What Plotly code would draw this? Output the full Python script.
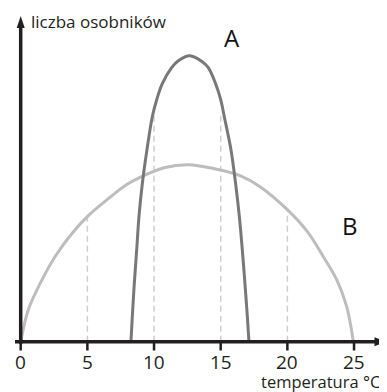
import plotly.graph_objects as go

# # Data (y is in arbitrary "number of individuals" units)
# -----------------------------------------------------|
a_temp = [8.27, 8.37, 8.52, 8.70, 8.87, 9.12, 9.47, 9.87, 10.20, 10.62, 11.32,
          11.82, 12.68, 13.62, 14.07, 14.62, 15.00, 15.27, 15.77, 16.12, 16.40,
          16.62, 16.82, 17.00, 17.12]
a_count = [0, 25, 58, 92, 125, 158, 192, 225, 242, 258, 274,
           281, 286, 280, 274, 258, 242, 225, 192, 158, 125,
           92, 58, 25, 0]

b_temp = [0.0, 0.57, 1.45, 2.57, 3.83, 5.07, 6.57, 7.82, 9.07, 10.75, 12.6,
          14.5, 16.45, 17.95, 20.0, 21.5, 22.7, 23.7, 24.45, 24.95]
b_count = [0, 32, 58, 85, 108, 126, 143, 156, 165, 174, 177,
           173, 166, 155, 132, 110, 85, 62, 35, 0]

guide_temp = [5, 10, 15, 20]
guide_top = [126, 227, 230, 132]

tick_vals = [0, 5, 10, 15, 20, 25]
tick_text = ['0', '5', '10', '15', '20', '25']

y_title = 'liczba osobników'
x_title = 'temperatura °C'

# # Style
# -----------------------------------------------------|
FONT = 'Open Sans'
INK = '#231f20'
PX = 13.333  # pixels per degree on the x axis
X0 = 20.7    # window column of temperature 0
Y0 = 341.7   # window row of the x axis
PAD = 8      # default page margin around the plot div
W, H = 387, 392


def xd(px):
    """Window column -> data x."""
    return (px - X0) / PX


def yd(py):
    """Window row -> data y."""
    return Y0 - py


fig = go.Figure()

# dashed guides up to the highest curve
for t, top in zip(guide_temp, guide_top):
    fig.add_trace(go.Scatter(
        x=[t, t], y=[0, top], mode='lines',
        line=dict(color='#cfcfcf', width=1.5, dash='6px,4px'),
        hoverinfo='skip', showlegend=False))

# curve B (wide tolerance)
fig.add_trace(go.Scatter(
    x=b_temp, y=b_count, mode='lines', name='B',
    line=dict(color='#bdbdbd', width=3, shape='spline', smoothing=1),
    showlegend=False))

# curve A (narrow tolerance)
fig.add_trace(go.Scatter(
    x=a_temp, y=a_count, mode='lines', name='A',
    line=dict(color='#787878', width=3, shape='spline', smoothing=1),
    showlegend=False))

shapes = [
    # x axis + arrow
    dict(type='line', x0=xd(15), x1=xd(379), y0=0, y1=0,
         line=dict(color=INK, width=3.5)),
    dict(type='path', fillcolor=INK, line=dict(width=0),
         path=f'M {xd(374.5)} 4.5 L {xd(386.5)} 0 L {xd(374.5)} -4.5 Z'),
    # y axis + arrow
    dict(type='line', x0=0, x1=0, y0=yd(344), y1=yd(27),
         line=dict(color=INK, width=3.5)),
    dict(type='path', fillcolor=INK, line=dict(width=0),
         path=f'M {xd(16.7)} {yd(28)} L 0 {yd(16)} L {xd(24.7)} {yd(28)} Z'),
]
# tick marks
for t in tick_vals:
    shapes.append(dict(type='line', x0=t, x1=t, y0=0, y1=yd(350.5),
                       line=dict(color=INK, width=2.5)))

annotations = [
    dict(x=t, y=yd(362), text=s, showarrow=False, xanchor='center',
         yanchor='middle', font=dict(family=FONT, size=19, color=INK))
    for t, s in zip(tick_vals, tick_text)
]
annotations += [
    dict(x=xd(29), y=yd(21), text=y_title, showarrow=False, xanchor='left',
         yanchor='middle', font=dict(family=FONT, size=17, color=INK)),
    # kept whole inside the visible page rather than cut at the edge
    dict(x=xd(259), y=yd(381), text=x_title, showarrow=False, xanchor='left',
         yanchor='middle', font=dict(family=FONT, size=16.5, color=INK)),
    dict(x=xd(231.5), y=yd(37), text='A', showarrow=False,
         font=dict(family=FONT, size=24, color='#111111')),
    dict(x=xd(349.5), y=yd(225.5), text='B', showarrow=False,
         font=dict(family=FONT, size=24, color='#111111')),
]

fig.update_layout(
    width=W, height=H,
    margin=dict(l=0, r=0, t=0, b=0),
    paper_bgcolor='white', plot_bgcolor='white',
    xaxis=dict(range=[xd(PAD), xd(PAD + W)], visible=False, fixedrange=True),
    yaxis=dict(range=[yd(PAD + H), yd(PAD)], visible=False, fixedrange=True),
    shapes=shapes, annotations=annotations,
)

fig.write_html("out.html")
